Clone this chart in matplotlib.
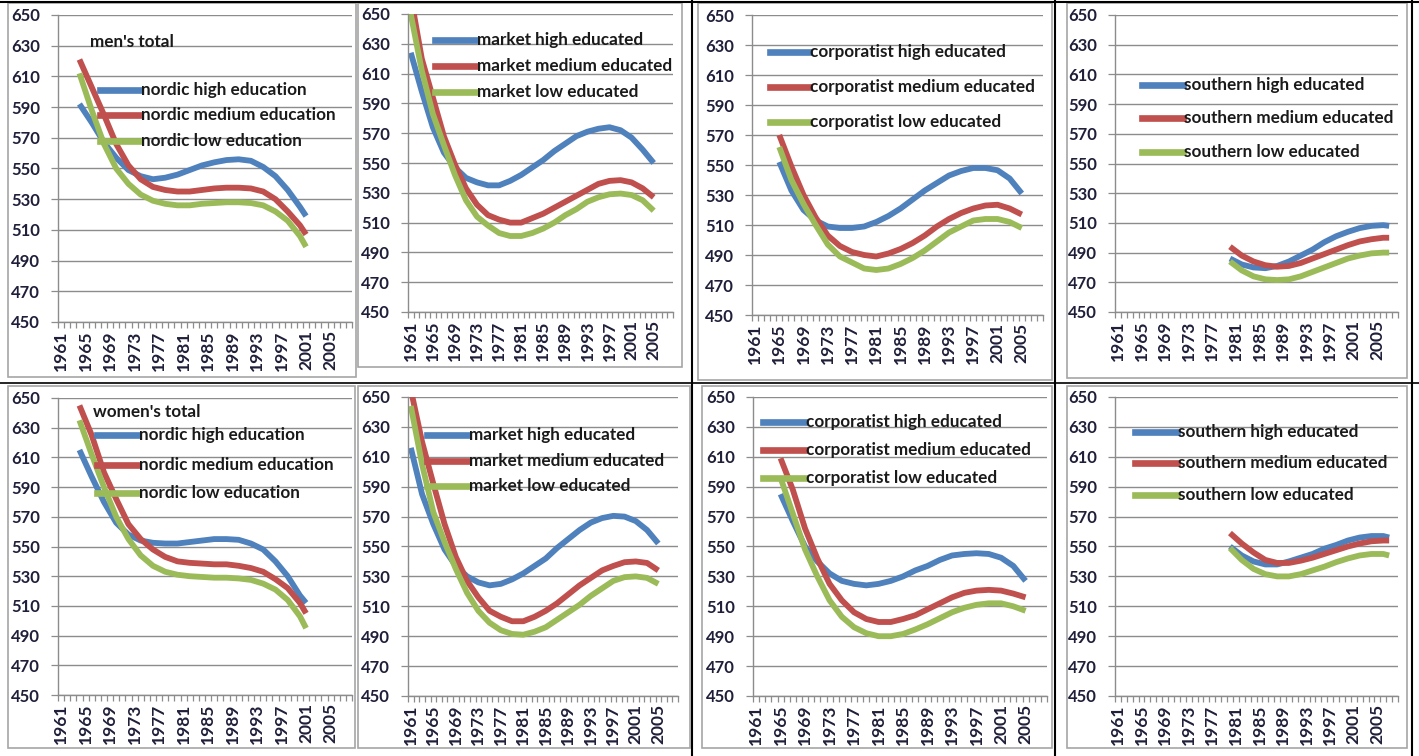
import numpy as np
import matplotlib.pyplot as plt
from matplotlib.lines import Line2D
from matplotlib.patches import Rectangle

W, H = 1419, 756

BLUE = "#4F81BD"
RED = "#C0504D"
GREEN = "#9BBB59"
GRID = "#8C8C8C"

# ---- data: fitted score trends by cohort year ----
nordic_years = [1964, 1966, 1968, 1970, 1972, 1974, 1976, 1978, 1980, 1982,
                1984, 1986, 1988, 1990, 1992, 1994, 1996, 1998, 2000, 2001]
men_nordic_high = [592, 580, 567, 557, 549, 545, 543, 544, 546, 549,
                   552, 554, 555.5, 556, 555, 551, 545, 536, 525, 519]
men_nordic_med = [621, 603, 585, 566, 552, 543, 538, 536, 535, 535,
                  536, 537, 537.5, 537.5, 537, 535, 530, 522, 513, 507]
men_nordic_low = [612, 588, 566, 550, 540, 533, 529, 527, 526, 526,
                  527, 527.5, 528, 528, 527.5, 526, 522, 516, 506, 499]
women_nordic_high = [615, 597, 580, 566, 558, 554, 552.5, 552, 552, 553,
                     554, 555, 555, 554.5, 552, 548, 540, 530, 517, 512]
women_nordic_med = [645, 625, 600, 582, 565, 555, 548, 543, 540, 539,
                    538.5, 538, 538, 537, 535.5, 533, 528, 522, 512, 505]
women_nordic_low = [635, 612, 590, 570, 555, 544, 537, 533, 531, 530,
                    529.5, 529, 529, 528.5, 527.5, 525, 521, 514, 503, 495]

market_years = [1961, 1963, 1965, 1967, 1969, 1971, 1973, 1975, 1977, 1979, 1981, 1983,
                1985, 1987, 1989, 1991, 1993, 1995, 1997, 1999, 2001, 2003, 2005]
men_market_high = [624, 598, 574, 557, 547, 540, 537, 535, 535, 538, 542, 547,
                   552, 558, 563, 568, 571, 573, 574, 572, 567, 559, 550]
men_market_med = [662, 620, 594, 568, 549, 533, 522, 515, 512, 510, 510, 513,
                  516, 520, 524, 528, 532, 536, 538, 538.5, 537, 533, 527]
men_market_low = [650, 612, 583, 562, 542, 525, 514, 508, 503, 501, 501, 503,
                  506, 510, 515, 519, 524, 527, 529, 529.5, 528.5, 525, 518]
women_market_high = [616, 585, 565, 548, 537, 530, 526, 524, 525, 528, 532, 537,
                     542, 549, 555, 561, 566, 569, 570.5, 570, 567, 561, 552]
women_market_med = [655, 620, 592, 565, 543, 527, 516, 507, 503, 500, 500, 503,
                    507, 512, 518, 524, 529, 534, 537, 539.5, 540, 539, 534]
women_market_low = [644, 605, 573, 553, 535, 519, 507, 499, 494, 491.5, 491, 493,
                    496, 501, 506, 511, 517, 522, 527, 529.5, 530, 529, 525]

corp_years = [1965, 1967, 1969, 1971, 1973, 1975, 1977, 1979, 1981, 1983, 1985,
              1987, 1989, 1991, 1993, 1995, 1997, 1999, 2001, 2003, 2005]
men_corp_high = [552, 533, 520, 513, 509, 508, 508, 509, 512, 516, 521,
                 527, 533, 538, 543, 546, 548, 548, 546.5, 541, 531]
men_corp_med = [570, 549, 530, 515, 503, 496, 492, 490, 489, 491, 494,
                498, 503, 509, 514, 518, 521, 523, 523.5, 521, 517]
men_corp_low = [562, 540, 524, 510, 497, 489, 485, 481, 480, 481, 484,
                488, 493, 499, 505, 509, 513, 514, 514, 512, 508]
women_corp_high = [585, 567, 550, 540, 532, 527, 525, 524, 525, 527, 530,
                   534, 537, 541, 544, 545, 545.5, 545, 542.5, 537, 527]
women_corp_med = [609, 588, 562, 542, 525, 514, 506, 501.5, 499.5, 499.5, 501.5,
                  504, 508, 512, 516, 519, 520.5, 521, 520.5, 518.5, 516]
women_corp_low = [596, 572, 548, 530, 514, 503, 496, 492, 490, 490, 491.5,
                  494.5, 498, 502, 506, 509, 511, 512, 512, 510, 507]

south_years = [1980, 1982, 1984, 1986, 1988, 1990, 1992, 1994, 1996, 1998,
               2000, 2002, 2004, 2006, 2007]
men_south_high = [486, 482, 480, 479.5, 481, 484, 488, 492, 497, 501,
                  504, 506.5, 508, 508.5, 508]
men_south_med = [494, 488, 484, 481.5, 480.5, 481, 483, 486, 489, 492,
                 495, 497.5, 499, 500, 500]
men_south_low = [484, 478, 474, 472, 471.5, 472, 474, 477, 480, 483,
                 486, 488, 489.5, 490, 490]
women_south_high = [550, 544, 540, 538, 538, 540, 542.5, 545, 548.5, 551,
                    554, 556, 557, 557, 556]
women_south_med = [559, 552, 546, 541, 539, 539, 540.5, 542.5, 545, 547.5,
                   550, 552, 553.5, 554, 554]
women_south_low = [549, 541, 535, 531.5, 530, 530, 531.5, 534, 536.5, 539.5,
                   542, 544, 545, 545, 544]

nordic_labels = ["nordic high education", "nordic medium education", "nordic low education"]
market_labels = ["market high educated", "market medium educated", "market low educated"]
corp_labels = ["corporatist high educated", "corporatist medium educated", "corporatist low educated"]
south_labels = ["southern high educated", "southern medium educated", "southern low educated"]

tick_years = list(range(1961, 2006, 4))
y_ticks = list(range(450, 651, 20))

plt.rcParams["font.family"] = ["Lato", "DejaVu Sans"]

fig = plt.figure(figsize=(W / 100, H / 100), dpi=100)


def px_axes(x0, x1, y0, y1):
    # axes placed by pixel bounds (top-left origin)
    return fig.add_axes([x0 / W, 1 - y1 / H, (x1 - x0) / W, (y1 - y0) / H])


def frame(x0, x1, y0, y1):
    fig.patches.append(Rectangle((x0 / W, 1 - y1 / H), (x1 - x0) / W, (y1 - y0) / H,
                                 transform=fig.transFigure, fill=False,
                                 edgecolor="#A6A6A6", linewidth=1.2, zorder=0))


def fig_line(xs, ys, color="black", lw=1.5):
    fig.add_artist(Line2D([x / W for x in xs], [1 - y / H for y in ys],
                          transform=fig.transFigure, color=color, linewidth=lw))


def panel(box, years, series, labels, leg, title=None):
    ax = px_axes(*box)
    for vals, c in zip(series, (BLUE, RED, GREEN)):
        ax.plot(years, vals, color=c, linewidth=4.2, solid_capstyle="butt",
                solid_joinstyle="round")
    ax.set_xlim(1960.5, 2008.5)
    ax.set_ylim(450, 650)
    ax.set_yticks(y_ticks)
    ax.set_yticklabels([str(v) for v in y_ticks], fontsize=12, fontweight="bold",
                       color="#1F1F3A")
    ax.set_xticks(tick_years)
    ax.set_xticklabels([str(v) for v in tick_years], rotation=90, fontsize=12.5,
                       fontweight="bold", color="#1F1F3A")
    ax.set_xticks(np.arange(1960.5, 2009, 1), minor=True)
    ax.tick_params(axis="x", which="major", length=0, pad=6)
    ax.tick_params(axis="x", which="minor", length=4, color=GRID, width=0.9)
    ax.tick_params(axis="y", length=5, color=GRID, width=0.9, pad=8)
    ax.grid(axis="y", color=GRID, linewidth=1.0)
    ax.set_axisbelow(True)
    for s in ("top", "right"):
        ax.spines[s].set_visible(False)
    for s in ("left", "bottom"):
        ax.spines[s].set_color(GRID)
        ax.spines[s].set_linewidth(1.0)
    ax.patch.set_alpha(0)

    # legend drawn in pixel space: short line sample, then label
    lx0, lx1, ys = leg
    for lab, c, yy in zip(labels, (BLUE, RED, GREEN), ys):
        fig_line([lx0, lx1], [yy, yy], color=c, lw=4.8)
        fig.text((lx1 + 1) / W, 1 - yy / H, lab, fontsize=12.3, color="#1A1A1A",
                 va="center", ha="left", fontweight="bold")
    if title:
        fig.text(title[0] / W, 1 - title[1] / H, title[2], fontsize=12.3,
                 color="#1A1A1A", va="center", ha="left", fontweight="bold")
    return ax


# chart frames
frame(8, 356, 3, 377)
frame(358, 682, 3, 367)
frame(698, 1052, 3, 380)
frame(1067, 1407, 3, 378)
frame(8, 355, 386, 748)
frame(358, 690, 386, 748)
frame(702, 1052, 386, 748)
frame(1067, 1407, 386, 748)

panel((58, 352, 15, 322), nordic_years,
      [men_nordic_high, men_nordic_med, men_nordic_low], nordic_labels,
      (100, 140, (90, 115, 141)), title=(90, 42, "men's total"))
panel((408, 673, 14, 312), market_years,
      [men_market_high, men_market_med, men_market_low], market_labels,
      (435, 476, (40, 66, 92)))
panel((752, 1043, 15, 315), corp_years,
      [men_corp_high, men_corp_med, men_corp_low], corp_labels,
      (770, 809, (52, 87, 122)))
panel((1115, 1398, 15, 312), south_years,
      [men_south_high, men_south_med, men_south_low], south_labels,
      (1142, 1183, (85, 118, 152)))

panel((58, 352, 398, 695), nordic_years,
      [women_nordic_high, women_nordic_med, women_nordic_low], nordic_labels,
      (97, 138, (435, 465, 493)), title=(93, 412, "women's total"))
panel((408, 678, 397, 696), market_years,
      [women_market_high, women_market_med, women_market_low], market_labels,
      (427, 468, (435, 461, 486)))
panel((753, 1047, 397, 696), corp_years,
      [women_corp_high, women_corp_med, women_corp_low], corp_labels,
      (763, 805, (422, 450, 478)))
panel((1115, 1398, 397, 696), south_years,
      [women_south_high, women_south_med, women_south_low], south_labels,
      (1135, 1177, (432, 463, 495)))

# black page rules between the pasted charts
fig_line([0, W], [1.5, 1.5])
fig_line([0, W], [383, 383], lw=1.2)
fig_line([692, 692], [0, H])
fig_line([1055, 1055], [0, H])
fig_line([1412, 1412], [0, H])

fig.savefig("out.png", dpi=100)
